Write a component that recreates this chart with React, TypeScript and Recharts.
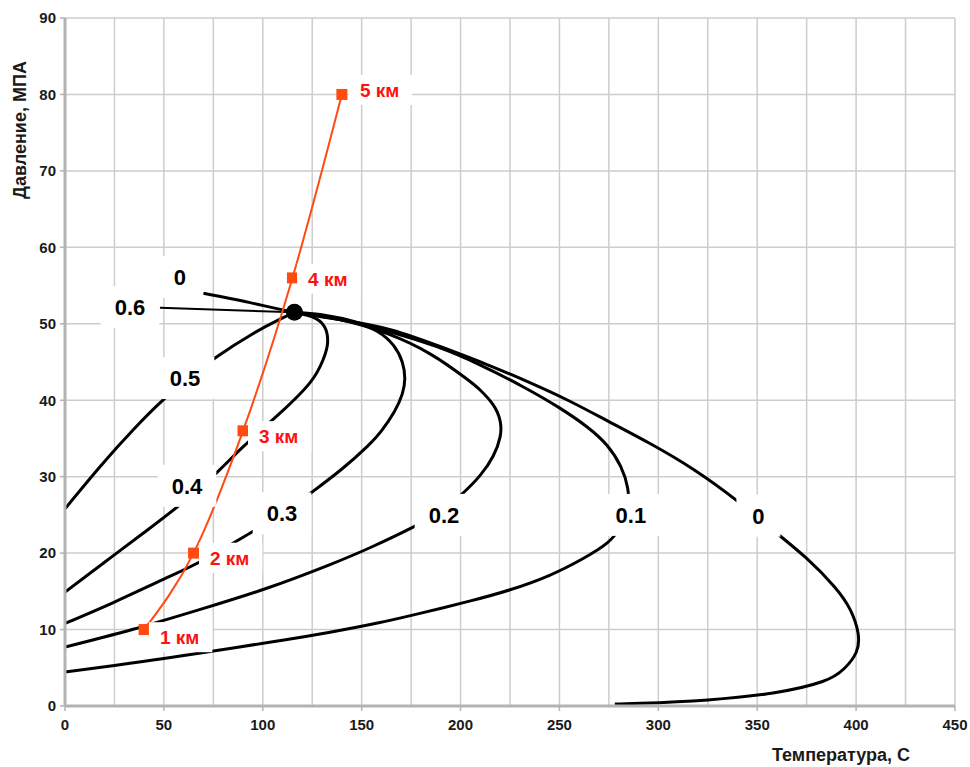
import React from 'react';
import { ComposedChart, Line, Scatter, XAxis, YAxis, CartesianGrid, Label } from 'recharts';

// ---- axis ticks ----
const xTicks = [0, 50, 100, 150, 200, 250, 300, 350, 400, 450];
const yTicks = [0, 10, 20, 30, 40, 50, 60, 70, 80, 90];
const xGridValues = [0, 25, 50, 75, 100, 125, 150, 175, 200, 225, 250, 275, 300, 325, 350, 375, 400, 425, 450];

// ---- quality lines (temperature C, pressure MPa) ----
const line0 = [
  [70, 54.0], [93, 52.8], [116, 51.5], [140, 50.5], [165, 49.2], [191, 46.9], [214, 44.6], [235, 42.3],
  [255, 39.9], [275, 37.2], [296, 34.3], [318, 30.9], [340, 26.8], [358, 23.0], [375, 19.3], [389, 15.6],
  [397, 12.6], [401, 9.5], [400, 7.0], [394, 4.9], [383, 3.2], [358, 1.7], [325, 0.8], [291, 0.35], [278, 0.25],
];
const line01 = [
  [0, 4.45], [25, 5.3], [50, 6.2], [85, 7.6], [110, 8.6], [134, 9.65], [158, 10.85], [180, 12.15],
  [205, 13.75], [225, 15.2], [245, 17.1], [262, 19.3], [274, 21.3], [281, 23.5], [284.5, 26], [284.5, 28.5],
  [281, 31.3], [274, 34.1], [264, 36.5], [250, 39.0], [232, 41.7], [210, 44.6], [188, 47.0], [165, 48.9],
  [140, 50.5], [116, 51.5],
];
const line02 = [
  [0, 7.7], [34, 10.0], [68, 12.6], [102, 15.4], [134, 18.5], [155, 20.8], [176, 23.4], [190, 25.5],
  [201, 27.8], [210, 30.2], [216.5, 32.7], [220, 35.2], [220, 37.3], [216.5, 39.4], [210, 41.3], [203, 42.8],
  [185, 46.0], [163, 48.7], [140, 50.5], [116, 51.5],
];
const line03 = [
  [0, 10.8], [25, 13.6], [50, 16.6], [70, 19.1], [93.5, 22.6], [110, 25.2], [125, 28.0], [140, 31.0],
  [153, 34.0], [160, 36.0], [166.5, 38.5], [170.5, 40.8], [171.8, 42.8], [170.5, 45.0], [166, 47.2],
  [158, 49.0], [146, 50.3], [132, 51.1], [116, 51.5],
];
const line04 = [
  [0, 14.9], [20, 18.8], [40, 22.7], [58, 26.3], [77, 30.6], [90, 33.9], [108.7, 38.3], [123.9, 42.3],
  [130.5, 45.3], [132.8, 47.6], [131, 49.7], [125, 50.9], [116, 51.5],
];
const line05 = [
  [0, 25.8], [17.7, 31.3], [34.4, 36.1], [49.5, 40], [63, 43], [76.8, 45.7], [95, 48.7], [108, 50.5], [116, 51.5],
];
const line06 = [[48, 52.1], [116, 51.5]];

// ---- well trajectory (depth points) ----
const wellPoints = [[40, 10], [65, 20], [90, 36], [115, 56], [140, 80]];

// ---- critical point ----
const criticalPoint = [[116, 51.5]];

// ---- annotation labels ----
const qualityLabels = [
  { x: 58.1, y: 56.1, text: '0' },
  { x: 32.9, y: 52.2, text: '0.6' },
  { x: 60.7, y: 42.9, text: '0.5' },
  { x: 61.7, y: 28.8, text: '0.4' },
  { x: 109.7, y: 25.2, text: '0.3' },
  { x: 191.6, y: 25.0, text: '0.2' },
  { x: 286.1, y: 25.0, text: '0.1' },
  { x: 350.6, y: 24.9, text: '0' },
];
const depthLabels = [
  { x: 48.0, y: 9.0, text: '1 км' },
  { x: 73.3, y: 19.4, text: '2 км' },
  { x: 98.1, y: 35.3, text: '3 км' },
  { x: 122.9, y: 55.9, text: '4 км' },
  { x: 149.1, y: 80.6, text: '5 км' },
];

const toPts = (a: number[][]) => a.map(([x, y]) => ({ x, y }));

const FONT = '"Liberation Sans", Arial, Helvetica, sans-serif';

const charW: Record<string, number> = { '.': 0.278, ' ': 0.278, 'к': 0.56, 'м': 0.68 };
const textWidth = (t: string, fs: number) =>
  t.split('').reduce((s, c) => s + (charW[c] ?? 0.556), 0) * fs;

const QualityLabelShape = (props: any) => {
  const { cx, cy, payload } = props;
  if (cx == null || cy == null) return null;
  const fs = 22;
  const w = Math.max(textWidth(payload.text, fs) + 28, 44);
  const h = 42;
  return (
    <g>
      <rect x={cx - w / 2} y={cy - h / 2} width={w} height={h} fill="#ffffff" />
      <text x={cx} y={cy + fs * 0.36} textAnchor="middle" fontFamily={FONT} fontSize={fs} fontWeight="bold" fill="#000">
        {payload.text}
      </text>
    </g>
  );
};

const DepthLabelShape = (props: any) => {
  const { cx, cy, payload } = props;
  if (cx == null || cy == null) return null;
  const fs = 19;
  const w = textWidth(payload.text, fs) + 24;
  const h = 30;
  return (
    <g>
      <rect x={cx - 11} y={cy - h / 2} width={w} height={h} fill="#ffffff" />
      <text x={cx} y={cy + fs * 0.36} textAnchor="start" fontFamily={FONT} fontSize={fs} fontWeight="bold" fill="#ff1010">
        {payload.text}
      </text>
    </g>
  );
};

const CriticalShape = (props: any) => {
  const { cx, cy } = props;
  if (cx == null || cy == null) return null;
  return <circle cx={cx} cy={cy} r={8.5} fill="#000" />;
};

const SquareDot = (props: any) => {
  const { cx, cy, index } = props;
  if (cx == null || cy == null) return <g key={`d${index}`} />;
  return <rect key={`d${index}`} x={cx - 5.5} y={cy - 5.5} width={11} height={11} fill="#ff4a12" />;
};

const tickStyle = { fontFamily: FONT, fontSize: 15, fontWeight: 'bold', fill: '#1a1a1a' } as any;

const curves = [
  { key: 'c0', data: line0, w: 3 },
  { key: 'c01', data: line01, w: 3 },
  { key: 'c02', data: line02, w: 3 },
  { key: 'c03', data: line03, w: 3 },
  { key: 'c04', data: line04, w: 3 },
  { key: 'c05', data: line05, w: 3 },
  { key: 'c06', data: line06, w: 2 },
];

export default function App() {
  return (
    <>
      <style>{'html,body{margin:0;padding:0;overflow:hidden;}'}</style>
      <ComposedChart width={970} height={767} margin={{ top: 18, right: 15, bottom: 31, left: 0 }}>
        <CartesianGrid verticalValues={xGridValues} horizontalValues={yTicks} stroke="#cdcdcd" strokeWidth={1.5} />
        <XAxis
          type="number"
          dataKey="x"
          domain={[0, 450]}
          ticks={xTicks}
          interval={0}
          allowDataOverflow
          height={30}
          tick={tickStyle}
          tickSize={5}
          tickMargin={8}
          axisLine={{ stroke: '#b3b3b3', strokeWidth: 3 }}
          tickLine={{ stroke: '#b3b3b3', strokeWidth: 1.5 }}
        >
          <Label
            content={() => (
              <text x={841} y={761} textAnchor="middle" fontFamily={FONT} fontSize={18} fontWeight="bold" fill="#1a1a1a">
                Температура, С
              </text>
            )}
          />
        </XAxis>
        <YAxis
          type="number"
          dataKey="y"
          domain={[0, 90]}
          ticks={yTicks}
          interval={0}
          allowDataOverflow
          width={65}
          tick={tickStyle}
          tickSize={5}
          tickMargin={4}
          axisLine={{ stroke: '#b3b3b3', strokeWidth: 3 }}
          tickLine={{ stroke: '#b3b3b3', strokeWidth: 1.5 }}
        >
          <Label
            content={() => (
              <text
                x={26}
                y={130}
                textAnchor="middle"
                transform="rotate(-90 26 130)"
                fontFamily={FONT}
                fontSize={18}
                fontWeight="bold"
                fill="#1a1a1a"
              >
                Давление, МПА
              </text>
            )}
          />
        </YAxis>
        {curves.map((c) => (
          <Line
            key={c.key}
            data={toPts(c.data)}
            dataKey="y"
            type="natural"
            stroke="#000"
            strokeWidth={c.w}
            dot={false}
            activeDot={false}
            isAnimationActive={false}
            strokeLinecap="butt"
          />
        ))}
        <Line
          data={toPts(wellPoints)}
          dataKey="y"
          type="monotone"
          stroke="#ff4a12"
          strokeWidth={2}
          dot={SquareDot}
          activeDot={false}
          isAnimationActive={false}
        />
        <Scatter data={toPts(criticalPoint)} dataKey="y" shape={CriticalShape} isAnimationActive={false} />
        <Scatter data={qualityLabels} dataKey="y" shape={QualityLabelShape} isAnimationActive={false} />
        <Scatter data={depthLabels} dataKey="y" shape={DepthLabelShape} isAnimationActive={false} />
      </ComposedChart>
    </>
  );
}
